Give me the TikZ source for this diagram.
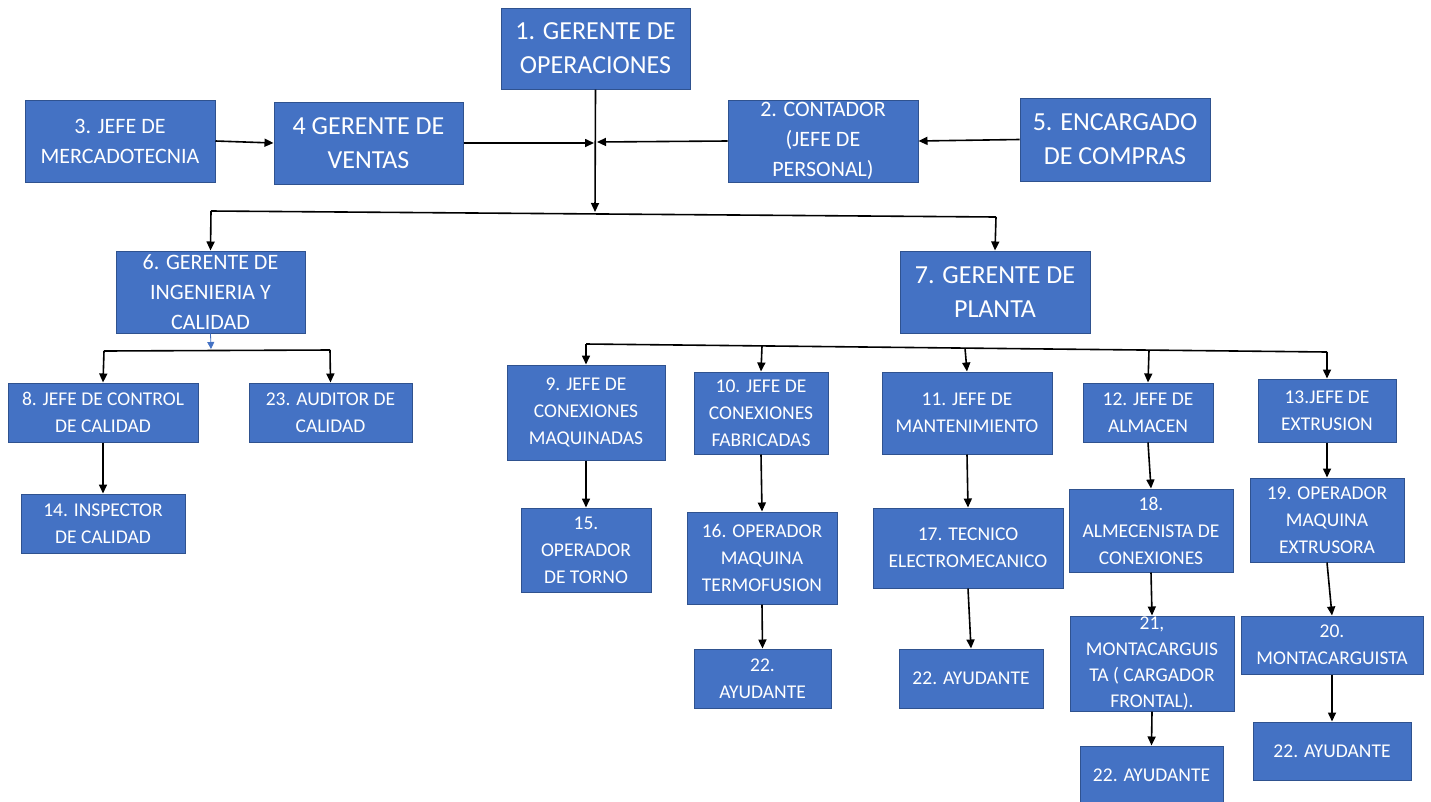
\documentclass[tikz,border=0pt]{standalone}
\usepackage{fontspec}
\setmainfont{Carlito}
\usetikzlibrary{arrows.meta}
\definecolor{boxblue}{HTML}{4472C4}
\definecolor{boxedge}{HTML}{2F528F}
\tikzset{
  orgbox/.style={rectangle, fill=boxblue, draw=boxedge, line width=1pt, text=white, align=center, inner sep=0pt},
  bigbox/.style={orgbox, font=\fontsize{26}{34}\selectfont},
  midbox/.style={orgbox, font=\fontsize{22}{30}\selectfont},
  smlbox/.style={orgbox, font=\fontsize{19.5}{27}\selectfont},
  smltext/.style={text=white, align=center, inner sep=0pt, font=\fontsize{19.5}{26}\selectfont},
  link/.style={line width=1.6pt, -{Triangle[length=9pt,width=8pt]}},
  bluelink/.style={draw=boxblue, line width=0.8pt, -{Triangle[length=7pt,width=7pt]}},
  bar/.style={line width=1.6pt}
}
\begin{document}
\begin{tikzpicture}[x=1pt,y=-1pt]
\useasboundingbox (0,0) rectangle (1431,801);
\fill[white] (0,0) rectangle (1431,801);

% top level
\node[bigbox, minimum width=189pt, minimum height=81pt] (n1) at (595.5,48.5) {1. GERENTE DE\\OPERACIONES};
\node[midbox, minimum width=190pt, minimum height=82pt] (n3) at (120,141) {3. JEFE DE\\MERCADOTECNIA};
\node[bigbox, minimum width=189pt, minimum height=82pt] (n4) at (368.5,143) {4 GERENTE DE\\VENTAS};
\node[midbox, minimum width=190pt, minimum height=82pt] (n2) at (823,141) {2. CONTADOR\\(JEFE DE\\PERSONAL)};
\node[bigbox, minimum width=190pt, minimum height=83pt] (n5) at (1115,139.5) {5. ENCARGADO\\DE COMPRAS};

% second level
\node[midbox, minimum width=189pt, minimum height=82pt] (n6) at (210.5,292) {6. GERENTE DE\\INGENIERIA Y\\CALIDAD};
\node[bigbox, minimum width=190pt, minimum height=82pt] (n7) at (995,292) {7. GERENTE DE\\PLANTA};

% quality branch
\node[smlbox, minimum width=190pt, minimum height=59pt] (n8) at (103,412.5) {8. JEFE DE CONTROL\\DE CALIDAD};
\node[smlbox, minimum width=163pt, minimum height=59pt] (n23) at (330.5,412.5) {23. AUDITOR DE\\CALIDAD};
\node[smlbox, minimum width=164pt, minimum height=59pt] (n14) at (103,523.5) {14. INSPECTOR\\DE CALIDAD};

% plant branch: heads
\node[smlbox, minimum width=158pt, minimum height=95pt] (n9) at (586,412.5) {9. JEFE DE\\CONEXIONES\\MAQUINADAS};
\node[smlbox, minimum width=134pt, minimum height=82pt] (n10) at (761,413) {10. JEFE DE\\CONEXIONES\\FABRICADAS};
\node[smlbox, minimum width=170pt, minimum height=82pt] (n11) at (967,413) {11. JEFE DE\\MANTENIMIENTO};
\node[smlbox, minimum width=130pt, minimum height=59pt] (n12) at (1148,412.5) {12. JEFE DE\\ALMACEN};
\node[smlbox, minimum width=138pt, minimum height=63pt] (n13) at (1327,410.5) {13.JEFE DE\\EXTRUSION};

% plant branch: second row
\node[smlbox, minimum width=130pt, minimum height=84pt] (n15) at (586,550) {15.\\OPERADOR\\DE TORNO};
\node[smlbox, minimum width=150pt, minimum height=92pt] (n16) at (762,558) {16. OPERADOR\\MAQUINA\\TERMOFUSION};
\node[smlbox, minimum width=190pt, minimum height=80pt] (n17) at (968,548) {17. TECNICO\\ELECTROMECANICO};
\node[smlbox, minimum width=164pt, minimum height=83pt] (n18) at (1151,530.5) {18.\\ALMECENISTA DE\\CONEXIONES};
\node[smlbox, minimum width=154pt, minimum height=84pt] (n19) at (1327,520) {19. OPERADOR\\MAQUINA\\EXTRUSORA};

% plant branch: third row
\node[smlbox, minimum width=137pt, minimum height=59pt] (n22a) at (762.5,678.5) {22.\\AYUDANTE};
\node[smlbox, minimum width=144pt, minimum height=59pt] (n22b) at (971,678.5) {22. AYUDANTE};
\node[smlbox, minimum width=164pt, minimum height=95pt] (n21) at (1152,663.5) {};
\node[smltext] (n21t) at (1152,664) {21,\\MONTACARGUIS\\TA ( CARGADOR\\FRONTAL).};
\node[smlbox, minimum width=182pt, minimum height=58pt] (n20) at (1332,645) {20.\\MONTACARGUISTA};

% fourth row
\node[smlbox, minimum width=143pt, minimum height=58pt] (n22c) at (1151.5,775) {22. AYUDANTE};
\node[smlbox, minimum width=158pt, minimum height=58pt] (n22d) at (1332,751) {22. AYUDANTE};

% coordinates for junctions
\coordinate (hubL) at (594,143);
\coordinate (hubR) at (597,142);
\coordinate (busM) at (595,212);
\coordinate (busL) at (211,211);
\coordinate (busR) at (996,217);
\coordinate (c6) at (211,349);
\coordinate (b6L) at (104,351);
\coordinate (b6R) at (330,350);
\coordinate (b7L) at (586,344);
\coordinate (t10) at (762,346);
\coordinate (t11) at (965,348.2);
\coordinate (t12) at (1149,350.1);
\coordinate (b7R) at (1327,352);

% top connectors
\draw[link] (n3.east) -- (n4.west);
\draw[link] (n4.east) -- (hubL);
\draw[link] (n5.west) -- (n2.east);
\draw[link] (n2.west) -- (hubR);
\draw[link] (n1.south) -- (busM);
\draw[bar] (busL) -- (busR);
\draw[link] (busL) -- (n6.north);
\draw[link] (busR) -- (n7.north);

% quality branch connectors
\draw[bluelink] (n6.south) -- (c6);
\draw[bar] (b6L) -- (b6R);
\draw[link] (b6L) -- (n8.north);
\draw[link] (b6R) -- (n23.north);
\draw[link] (n8.south) -- (n14.north);

% plant branch connectors
\draw[bar] (b7L) -- (b7R);
\draw[link] (b7L) -- (n9.north);
\draw[link] (t10) -- (n10.north);
\draw[link] (t11) -- (n11.north);
\draw[link] (t12) -- (n12.north);
\draw[link] (b7R) -- (n13.north);

\draw[link] (n9.south) -- (n15.north);
\draw[link] (n10.south) -- (n16.north);
\draw[link] (n16.south) -- (n22a.north);
\draw[link] (n11.south) -- (n17.north);
\draw[link] (n17.south) -- (n22b.north);
\draw[link] (n12.south) -- (n18.north);
\draw[link] (n18.south) -- (n21.north);
\draw[link] (n21.south) -- (n22c.north);
\draw[link] (n13.south) -- (n19.north);
\draw[link] (n19.south) -- (n20.north);
\draw[link] (n20.south) -- (n22d.north);
\end{tikzpicture}
\end{document}
